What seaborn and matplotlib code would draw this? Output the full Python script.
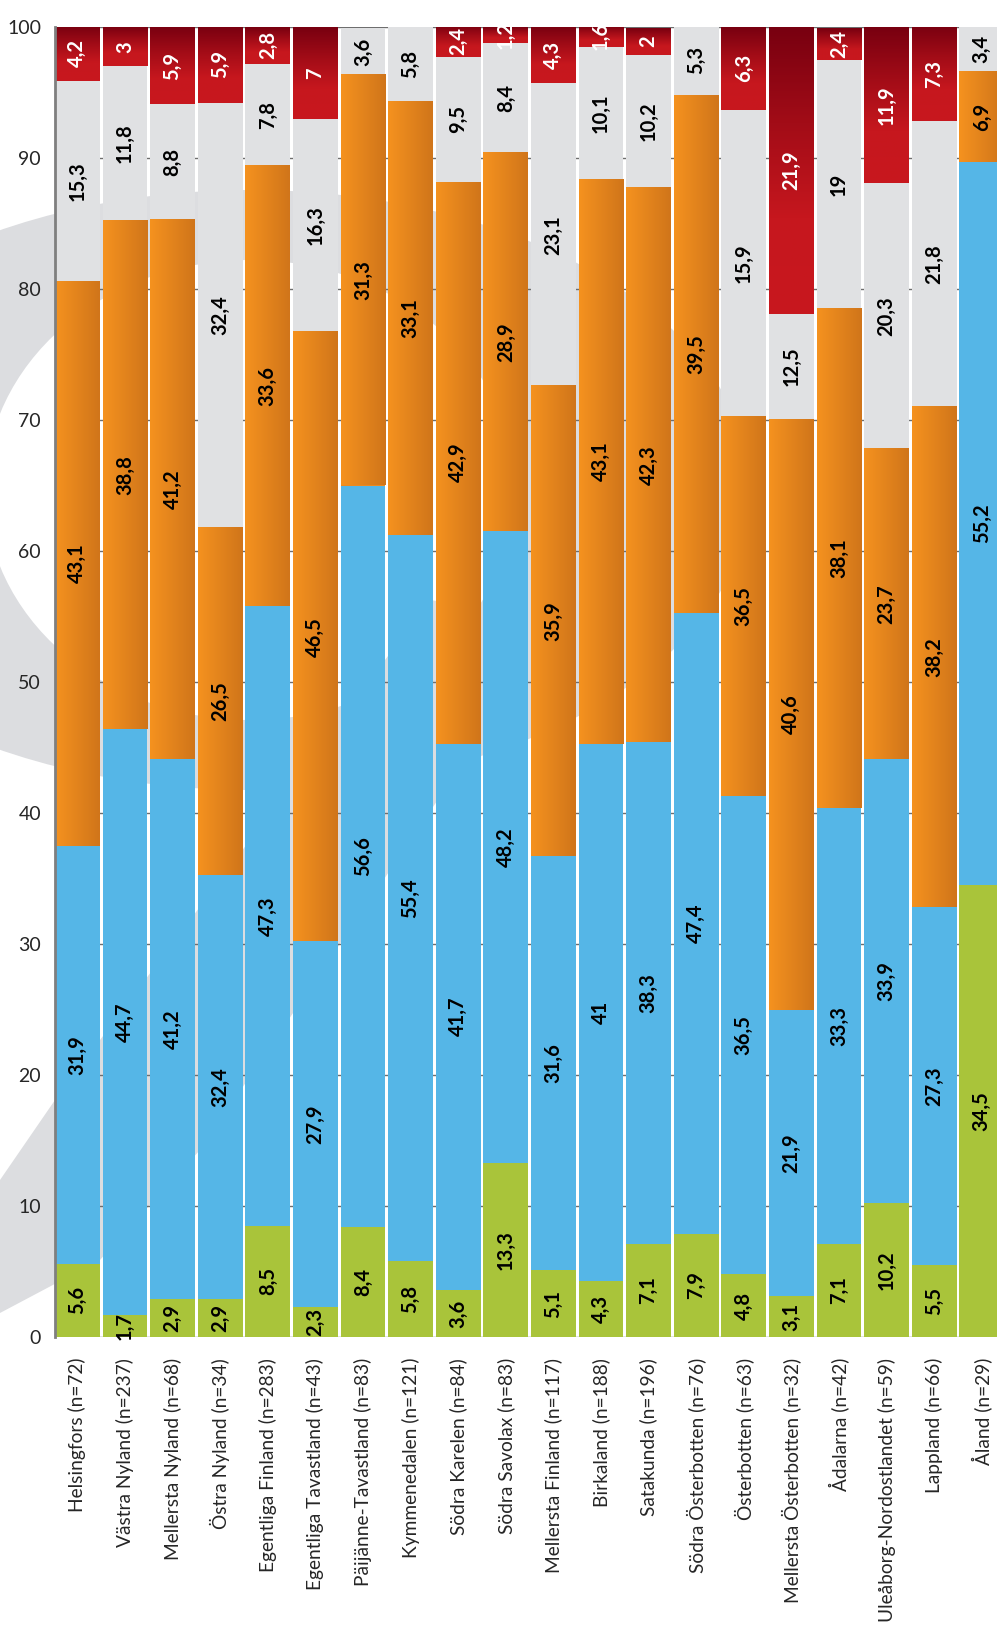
import numpy as np
import pandas as pd
import seaborn as sns
import matplotlib.pyplot as plt
from matplotlib.colors import LinearSegmentedColormap
from matplotlib.patches import Ellipse, Polygon

regions = ["Helsingfors", "Västra Nyland", "Mellersta Nyland", "Östra Nyland",
           "Egentliga Finland", "Egentliga Tavastland", "Päijänne-Tavastland",
           "Kymmenedalen", "Södra Karelen", "Södra Savolax", "Mellersta Finland",
           "Birkaland", "Satakunda", "Södra Österbotten", "Österbotten",
           "Mellersta Österbotten", "Ådalarna", "Uleåborg-Nordostlandet",
           "Lappland", "Åland"]
n_obs = [72, 237, 68, 34, 283, 43, 83, 121, 84, 83, 117, 188, 196, 76, 63, 32, 42, 59, 66, 29]

# printed values
green = [5.6, 1.7, 2.9, 2.9, 8.5, 2.3, 8.4, 5.8, 3.6, 13.3, 5.1, 4.3, 7.1, 7.9, 4.8, 3.1, 7.1, 10.2, 5.5, 34.5]
blue = [31.9, 44.7, 41.2, 32.4, 47.3, 27.9, 56.6, 55.4, 41.7, 48.2, 31.6, 41, 38.3, 47.4, 36.5, 21.9, 33.3, 33.9, 27.3, 55.2]
orange = [43.1, 38.8, 41.2, 26.5, 33.6, 46.5, 31.3, 33.1, 42.9, 28.9, 35.9, 43.1, 42.3, 39.5, 36.5, 40.6, 38.1, 23.7, 38.2, 6.9]
grey = [15.3, 11.8, 8.8, 32.4, 7.8, 16.3, 3.6, 5.8, 9.5, 8.4, 23.1, 10.1, 10.2, 5.3, 15.9, 12.5, 19, 20.3, 21.8, 3.4]
red = [4.2, 3, 5.9, 5.9, 2.8, 7, 0, 0, 2.4, 1.2, 4.3, 1.6, 2, 0, 6.3, 21.9, 2.4, 11.9, 7.3, 0]

# drawn heights (the original bars for Österbotten / Mellersta Österbotten
# do not follow their printed numbers)
orange_h = [43.1, 38.8, 41.2, 26.5, 33.6, 46.5, 31.3, 33.1, 42.9, 28.9, 35.9, 43.1, 42.3, 39.5, 29.0, 45.1, 38.1, 23.7, 38.2, 6.9]
grey_h = [15.3, 11.8, 8.8, 32.4, 7.8, 16.3, 3.6, 5.8, 9.5, 8.4, 23.1, 10.1, 10.2, 5.3, 23.4, 8.0, 19, 20.3, 21.8, 3.4]

labels = [f"{r} (n={n})" for r, n in zip(regions, n_obs)]
colors = ["#a9c43a", "#55b6e7", "#ec8a20", "#e0e1e3", "#b01419"]
cols = ["green", "blue", "orange", "grey", "red"]

heights = pd.DataFrame({"green": green, "blue": blue, "orange": orange_h,
                        "grey": grey_h, "red": red})
printed = pd.DataFrame({"green": green, "blue": blue, "orange": orange,
                        "grey": grey, "red": red})
tops = heights[cols].cumsum(axis=1)
bottoms = tops - heights[cols]

sns.set_style("white")
plt.rcParams["font.family"] = ["Lato", "DejaVu Sans"]

fig = plt.figure(figsize=(9.97, 16.28), dpi=100)

# watermark in the background
bg = fig.add_axes([0, 0, 1, 1], zorder=-5)
bg.set_xlim(0, 997)
bg.set_ylim(1628, 0)
bg.axis("off")
wm = "#dcdde0"
bg.add_patch(Ellipse((250, 490), 1000, 600, color=wm, lw=0))
bg.add_patch(Ellipse((250, 490), 530, 460, color="white", lw=0))
bg.add_patch(Polygon([(0, 1180), (55, 1100), (430, 600), (560, 620),
                      (200, 1150), (100, 1260), (0, 1313)], closed=True,
                     color=wm, lw=0))

ax = fig.add_axes([55 / 997, 291 / 1628, 952 / 997, 1310 / 1628])
ax.set_facecolor("none")

bw = 0.94
for k in range(len(cols) - 1, -1, -1):
    sns.barplot(x=labels, y=tops[cols[k]], color=colors[k], saturation=1,
                width=bw, errorbar=None, ax=ax, linewidth=0, zorder=2)

orange_cmap = LinearSegmentedColormap.from_list("o", ["#f5921f", "#d0751a"])
red_cmap = LinearSegmentedColormap.from_list("r", ["#780010", "#a20c17", "#c6171e", "#c8181e"])
hgrad = np.linspace(0, 1, 256).reshape(1, -1)
vgrad = np.linspace(0, 1, 256).reshape(-1, 1)

for i in range(len(labels)):
    b, t = bottoms.loc[i, "orange"], tops.loc[i, "orange"]
    ax.imshow(hgrad, cmap=orange_cmap, aspect="auto", zorder=3,
              extent=(i - bw / 2, i + bw / 2, b, t))
    if red[i] > 0:
        b, t = bottoms.loc[i, "red"], tops.loc[i, "red"]
        ax.imshow(vgrad, cmap=red_cmap, aspect="auto", zorder=3,
                  extent=(i - bw / 2, i + bw / 2, b, t))


def fmt(v):
    return f"{v:g}".replace(".", ",")


for c in cols:
    for i in range(len(labels)):
        v = printed.loc[i, c]
        if v <= 0:
            continue
        y = bottoms.loc[i, c] + heights.loc[i, c] / 2
        ax.text(i, y, fmt(v), rotation=90, ha="center", va="center",
                fontsize=14.5, fontweight="bold", zorder=5,
                color="white" if c == "red" else "black")

ax.set_xlim(-bw / 2, 20 - bw / 2)
ax.set_ylim(0, 100)
ax.set_yticks(range(0, 101, 10))
ax.yaxis.grid(True, color="#6e6e6e", lw=1)
ax.xaxis.grid(False)
ax.set_axisbelow(True)
ax.set_xlabel("")
ax.set_ylabel("")
ax.set_xticks(range(len(labels)))
ax.set_xticklabels(labels, rotation=90, ha="center", va="top", fontsize=13.8)
ax.tick_params(axis="x", length=0, pad=15)
ax.tick_params(axis="y", length=0, pad=10, labelsize=14)
for s in ["top", "right", "bottom"]:
    ax.spines[s].set_visible(False)
ax.spines["left"].set_color("#7f7f7f")
ax.spines["left"].set_linewidth(2)
ax.spines["left"].set_zorder(6)

fig.savefig("out.png", dpi=100)
